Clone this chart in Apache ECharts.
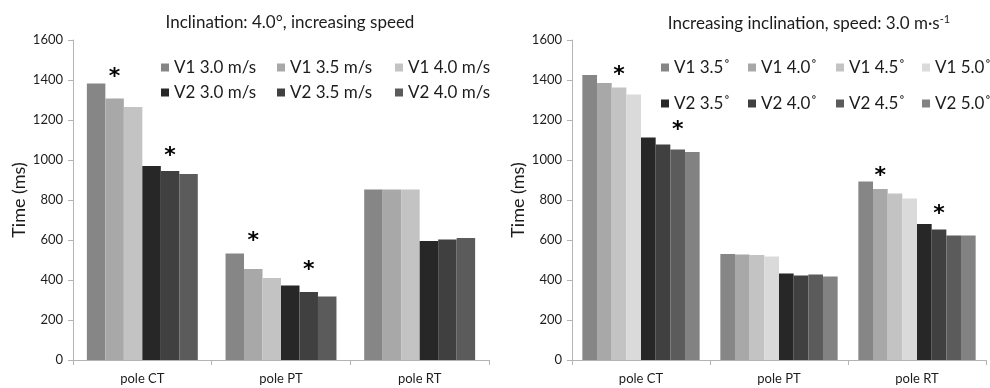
<!DOCTYPE html>
<html>
<head>
<meta charset="utf-8">
<title>Time by pole</title>
<script src="https://cdn.jsdelivr.net/npm/echarts@6/dist/echarts.min.js"></script>
<style>
  html, body { margin: 0; padding: 0; background: #fff; }
  #chart { width: 990px; height: 388px; }
</style>
</head>
<body>
<div id="chart"></div>
<script>
// Categories shared by both panels
const categories = ['pole CT', 'pole PT', 'pole RT'];
const yTicks = [0, 200, 400, 600, 800, 1000, 1200, 1400, 1600];

// Left panel: inclination 4.0°, increasing speed
const speedNames = ['V1 3.0 m/s', 'V1 3.5 m/s', 'V1 4.0 m/s', 'V2 3.0 m/s', 'V2 3.5 m/s', 'V2 4.0 m/s'];
const v1Speed30 = [1383, 532, 852];
const v1Speed35 = [1307, 455, 853];
const v1Speed40 = [1265, 410, 853];
const v2Speed30 = [970, 373, 595];
const v2Speed35 = [945, 340, 603];
const v2Speed40 = [930, 318, 610];

// Right panel: increasing inclination, speed 3.0 m/s
const inclNames = ['V1 3.5˚', 'V1 4.0˚', 'V1 4.5˚', 'V1 5.0˚', 'V2 3.5˚', 'V2 4.0˚', 'V2 4.5˚', 'V2 5.0˚'];
const v1Incl35 = [1425, 530, 893];
const v1Incl40 = [1385, 528, 855];
const v1Incl45 = [1362, 525, 833];
const v1Incl50 = [1327, 517, 808];
const v2Incl35 = [1113, 432, 680];
const v2Incl40 = [1078, 423, 653];
const v2Incl45 = [1053, 428, 623];
const v2Incl50 = [1040, 417, 622];

// Significance markers: [series index, category, height in ms]
const speedStars = [[1, 'pole CT', 1445], [4, 'pole CT', 1050], [1, 'pole PT', 625], [4, 'pole PT', 480]];
const inclStars = [[2, 'pole CT', 1455], [6, 'pole CT', 1180], [1, 'pole RT', 947], [5, 'pole RT', 757]];

const speedData = [v1Speed30, v1Speed35, v1Speed40, v2Speed30, v2Speed35, v2Speed40];
const inclData = [v1Incl35, v1Incl40, v1Incl45, v1Incl50, v2Incl35, v2Incl40, v2Incl45, v2Incl50];

const speedColors = ['#868686', '#a8a8a8', '#c3c3c3', '#272727', '#404040', '#5b5b5b'];
const inclColors = ['#868686', '#a8a8a8', '#c3c3c3', '#dadada', '#272727', '#404040', '#5b5b5b', '#828282'];

const FONT = 'Lato, "Open Sans", sans-serif';
const TEXT = '#1c1c1c';
const AXIS = '#b4b4b4';

function starMarks(stars, idx) {
  const items = stars.filter(s => s[0] === idx).map(s => ({ coord: [s[1], s[2]] }));
  if (!items.length) return undefined;
  return {
    symbol: 'circle',
    symbolSize: 1,
    itemStyle: { color: 'rgba(0,0,0,0)' },
    label: {
      show: true, position: 'inside', formatter: '*',
      fontFamily: 'DejaVu Sans', fontWeight: 'bold', fontSize: 22, color: '#000',
      offset: [0, 6]
    },
    silent: true,
    animation: false,
    data: items
  };
}

function buildSeries(names, data, colors, stars, axisIdx, gap) {
  return names.map((n, i) => ({
    name: n,
    type: 'bar',
    xAxisIndex: axisIdx,
    yAxisIndex: axisIdx,
    data: data[i],
    barGap: '0%',
    barCategoryGap: gap,
    itemStyle: { color: colors[i] },
    markPoint: starMarks(stars, i),
    animation: false
  }));
}

function yAxis(gridIndex) {
  return {
    type: 'value', gridIndex, min: 0, max: 1600, interval: 200,
    name: 'Time (ms)', nameLocation: 'middle', nameGap: 45,
    nameTextStyle: { fontFamily: FONT, fontSize: 18, color: TEXT },
    axisLine: { show: true, lineStyle: { color: AXIS } },
    axisTick: { show: true, length: 5, lineStyle: { color: AXIS } },
    axisLabel: { fontFamily: FONT, fontSize: 13, color: TEXT, margin: 10,
      formatter: v => yTicks.includes(v) ? String(v) : '' },
    splitLine: { show: false }
  };
}

function xAxis(gridIndex) {
  return {
    type: 'category', gridIndex, data: categories,
    axisLine: { show: true, lineStyle: { color: AXIS } },
    axisTick: { show: true, length: 5, alignWithLabel: false, interval: 0, lineStyle: { color: AXIS } },
    axisLabel: { fontFamily: FONT, fontSize: 13, color: TEXT, margin: 12 }
  };
}

// One legend block per entry so the columns line up
const speedLegendLeft = [161, 277, 395];
const inclLegendLeft = [661, 748, 836, 922];
const legends = [];
speedNames.forEach((n, i) => {
  legends.push({
    data: [n], left: speedLegendLeft[i % 3], top: 59 + (i < 3 ? 0 : 25), padding: 0,
    itemWidth: 8, itemHeight: 8, icon: 'rect', selectedMode: false,
    textStyle: { fontFamily: FONT, fontSize: 17, color: TEXT }
  });
});
inclNames.forEach((n, i) => {
  legends.push({
    data: [n], left: inclLegendLeft[i % 4], top: 59 + (i < 4 ? 0 : 36), padding: 0,
    itemWidth: 8, itemHeight: 8, icon: 'rect', selectedMode: false,
    textStyle: { fontFamily: FONT, fontSize: 17, color: TEXT }
  });
});

const chart = echarts.init(document.getElementById('chart'), null, { renderer: 'canvas' });
chart.setOption({
  backgroundColor: '#fff',
  animation: false,
  title: [
    { text: 'Inclination: 4.0°, increasing speed', left: 285, top: 9, textAlign: 'center',
      textStyle: { fontFamily: FONT, fontSize: 17, fontWeight: 'normal', color: TEXT } },
    { text: 'Increasing inclination, speed: 3.0 m·s{sup|-1}', left: 804, top: 9, textAlign: 'center',
      textStyle: { fontFamily: FONT, fontSize: 17, fontWeight: 'normal', color: TEXT,
        rich: { sup: { fontFamily: FONT, fontSize: 11, color: TEXT, verticalAlign: 'top', padding: [0, 0, 8, 0] } } } }
  ],
  legend: legends,
  grid: [
    { left: 73, top: 40, width: 416, height: 320 },
    { left: 572, top: 40, width: 414, height: 320 }
  ],
  xAxis: [xAxis(0), xAxis(1)],
  yAxis: [yAxis(0), yAxis(1)],
  series: [
    ...buildSeries(speedNames, speedData, speedColors, speedStars, 0, '20%'),
    ...buildSeries(inclNames, inclData, inclColors, inclStars, 1, '15%')
  ]
});
</script>
</body>
</html>
